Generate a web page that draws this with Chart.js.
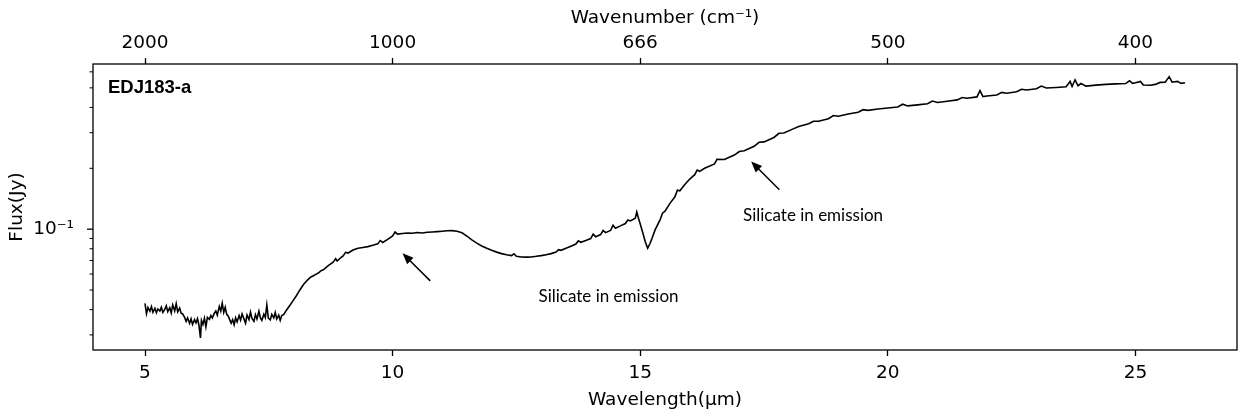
<!DOCTYPE html>
<html>
<head>
<meta charset="utf-8">
<script src="https://cdn.jsdelivr.net/npm/chart.js@4.4.0/dist/chart.umd.min.js"></script>
<style>
  body { margin: 0; background: #fff; }
  canvas { display: block; }
</style>
</head>
<body>
<canvas id="spectrum" width="1239" height="414"></canvas>
<script>
// Spectrum of EDJ183-a: wavelength in micron, flux in Jy
const wavelength = [
  5.00, 5.03, 5.06, 5.10, 5.13, 5.16, 5.20, 5.23, 5.26, 5.30, 5.33, 5.36, 5.40, 5.43, 5.46,
  5.50, 5.53, 5.56, 5.60, 5.63, 5.66, 5.70, 5.73, 5.76, 5.80, 5.83, 5.86, 5.90, 5.93, 5.96,
  6.00, 6.03, 6.06, 6.09, 6.12, 6.14, 6.17, 6.20, 6.23, 6.26, 6.30, 6.33, 6.36, 6.40, 6.43,
  6.46, 6.50, 6.53, 6.56, 6.59, 6.62, 6.65, 6.68, 6.71, 6.74, 6.77, 6.80, 6.83, 6.86, 6.90,
  6.93, 6.96, 7.00, 7.03, 7.06, 7.10, 7.13, 7.16, 7.20, 7.23, 7.26, 7.30, 7.33, 7.36, 7.40,
  7.43, 7.46, 7.49, 7.53, 7.56, 7.60, 7.63, 7.66, 7.70, 7.73, 7.76, 7.80, 7.84, 7.88, 7.92,
  7.96, 8.00, 8.05, 8.10, 8.15, 8.20, 8.25, 8.30, 8.35, 8.40, 8.45, 8.50, 8.55, 8.60, 8.70,
  8.80, 8.85, 8.88, 8.95, 9.00, 9.05, 9.10, 9.20, 9.30, 9.40, 9.50, 9.60, 9.70, 9.75, 9.80,
  9.90, 10.00, 10.05, 10.10, 10.20, 10.30, 10.40, 10.50, 10.60, 10.70, 10.80, 10.90, 11.00, 11.10, 11.20,
  11.30, 11.40, 11.50, 11.60, 11.70, 11.80, 11.90, 12.00, 12.10, 12.20, 12.30, 12.40, 12.45, 12.50, 12.60,
  12.70, 12.80, 12.90, 13.00, 13.10, 13.20, 13.30, 13.35, 13.40, 13.50, 13.60, 13.70, 13.75, 13.80, 13.90,
  14.00, 14.05, 14.10, 14.20, 14.25, 14.30, 14.40, 14.45, 14.50, 14.60, 14.70, 14.75, 14.80, 14.90, 14.93,
  14.96, 15.00, 15.05, 15.10, 15.15, 15.20, 15.25, 15.30, 15.40, 15.45, 15.50, 15.60, 15.70, 15.75, 15.80,
  15.90, 16.00, 16.10, 16.15, 16.20, 16.30, 16.50, 16.55, 16.70, 16.90, 17.00, 17.10, 17.30, 17.40, 17.50,
  17.70, 17.80, 17.90, 18.10, 18.20, 18.40, 18.50, 18.60, 18.80, 18.90, 19.00, 19.20, 19.40, 19.50, 19.60,
  19.80, 20.00, 20.20, 20.30, 20.40, 20.60, 20.80, 20.90, 21.00, 21.20, 21.40, 21.50, 21.60, 21.80, 21.86,
  21.92, 22.00, 22.20, 22.30, 22.40, 22.60, 22.70, 22.80, 23.00, 23.10, 23.20, 23.40, 23.60, 23.68, 23.72,
  23.78, 23.84, 23.90, 24.00, 24.20, 24.40, 24.60, 24.80, 24.88, 24.94, 25.00, 25.10, 25.16, 25.30, 25.40,
  25.50, 25.60, 25.68, 25.74, 25.85, 25.92, 26.00
];

const flux = [
  0.0430, 0.0382, 0.0410, 0.0393, 0.0414, 0.0388, 0.0406, 0.0386, 0.0403, 0.0394, 0.0411, 0.0388, 0.0401, 0.0418, 0.0391,
  0.0409, 0.0385, 0.0422, 0.0394, 0.0428, 0.0390, 0.0407, 0.0384, 0.0381, 0.0366, 0.0350, 0.0364, 0.0342, 0.0360, 0.0338,
  0.0357, 0.0344, 0.0361, 0.0334, 0.0290, 0.0354, 0.0338, 0.0363, 0.0329, 0.0366, 0.0358, 0.0374, 0.0364, 0.0384, 0.0394,
  0.0376, 0.0415, 0.0394, 0.0430, 0.0388, 0.0411, 0.0379, 0.0372, 0.0357, 0.0343, 0.0357, 0.0337, 0.0364, 0.0348, 0.0374,
  0.0355, 0.0381, 0.0359, 0.0343, 0.0376, 0.0357, 0.0389, 0.0362, 0.0350, 0.0378, 0.0360, 0.0393, 0.0364, 0.0354, 0.0380,
  0.0366, 0.0422, 0.0363, 0.0356, 0.0379, 0.0364, 0.0387, 0.0360, 0.0376, 0.0354, 0.0374, 0.0378, 0.0392, 0.0405, 0.0418,
  0.0432, 0.0447, 0.0466, 0.0488, 0.0510, 0.0532, 0.0550, 0.0566, 0.0580, 0.0588, 0.0598, 0.0607, 0.0622, 0.0630, 0.0660,
  0.0686, 0.0715, 0.0696, 0.0722, 0.0738, 0.0768, 0.0762, 0.0788, 0.0805, 0.0812, 0.0820, 0.0832, 0.0846, 0.0878, 0.0860,
  0.0890, 0.0925, 0.0968, 0.0945, 0.0952, 0.0958, 0.0955, 0.0962, 0.0957, 0.0965, 0.0968, 0.0972, 0.0977, 0.0982, 0.0984,
  0.0977, 0.0960, 0.0924, 0.0886, 0.0853, 0.0826, 0.0804, 0.0786, 0.0770, 0.0757, 0.0747, 0.0740, 0.0755, 0.0734, 0.0729,
  0.0727, 0.0729, 0.0734, 0.0740, 0.0748, 0.0757, 0.0771, 0.0792, 0.0786, 0.0805, 0.0824, 0.0844, 0.0875, 0.0861, 0.0879,
  0.0899, 0.0945, 0.0918, 0.0940, 0.0985, 0.0961, 0.0985, 0.1045, 0.1011, 0.1038, 0.1066, 0.1110, 0.1098, 0.1132, 0.1215,
  0.1142, 0.1060, 0.0962, 0.0870, 0.0805, 0.0852, 0.0918, 0.0992, 0.1112, 0.1200, 0.1228, 0.1342, 0.1446, 0.1560, 0.1548,
  0.1662, 0.1770, 0.1860, 0.1960, 0.1932, 0.2000, 0.2103, 0.2215, 0.2211, 0.2325, 0.2420, 0.2445, 0.2571, 0.2690, 0.2703,
  0.2842, 0.2980, 0.2989, 0.3143, 0.3220, 0.3320, 0.3420, 0.3420, 0.3520, 0.3650, 0.3620, 0.3710, 0.3790, 0.3900, 0.3870,
  0.3930, 0.3975, 0.4020, 0.4150, 0.4070, 0.4120, 0.4170, 0.4300, 0.4230, 0.4290, 0.4360, 0.4480, 0.4440, 0.4510, 0.4850,
  0.4530, 0.4560, 0.4610, 0.4750, 0.4700, 0.4780, 0.4920, 0.4880, 0.4950, 0.5100, 0.4990, 0.5020, 0.5060, 0.5380, 0.5080,
  0.5480, 0.5120, 0.5250, 0.5100, 0.5160, 0.5200, 0.5230, 0.5250, 0.5420, 0.5260, 0.5300, 0.5380, 0.5160, 0.5150, 0.5200,
  0.5320, 0.5330, 0.5680, 0.5330, 0.5380, 0.5260, 0.5300
];

// Axis ticks: wavelength below, matching wavenumber labels above
const wavelengthTicks = [5, 10, 15, 20, 25];
const wavenumberLabels = ['2000', '1000', '666', '500', '400'];
const fluxTicks = [0.03, 0.04, 0.05, 0.06, 0.07, 0.08, 0.09, 0.1, 0.2, 0.3, 0.4, 0.5, 0.6];

// Arrow annotations (data coordinates)
const notes = [
  { text: 'Silicate in emission', tipX: 10.20, tipY: 0.0760, tailX: 10.76, tailY: 0.0555, textX: 14.36, textY: 0.0464 },
  { text: 'Silicate in emission', tipX: 17.24, tipY: 0.2162, tailX: 17.81, tailY: 0.1565, textX: 18.49, textY: 0.1164 }
];

const AXIS_FONT = { family: "'DejaVu Sans', sans-serif", size: 18.5 };

const points = wavelength.map((w, i) => ({ x: w, y: flux[i] }));

// Frame, log-axis tick marks, arrows and the object name
const decorPlugin = {
  id: 'decor',
  afterDraw(chart) {
    const { ctx, chartArea: a, scales: { x, y } } = chart;
    ctx.save();
    ctx.strokeStyle = '#000';
    ctx.fillStyle = '#000';

    ctx.lineWidth = 1.3;
    ctx.strokeRect(a.left, a.top, a.right - a.left, a.bottom - a.top);

    fluxTicks.forEach(v => {
      const py = y.getPixelForValue(v);
      const major = v === 0.1;
      ctx.lineWidth = major ? 1.3 : 1;
      ctx.beginPath();
      ctx.moveTo(a.left - (major ? 6 : 3.5), py);
      ctx.lineTo(a.left, py);
      ctx.stroke();
    });

    notes.forEach(n => {
      const x0 = x.getPixelForValue(n.tailX), y0 = y.getPixelForValue(n.tailY);
      const x1 = x.getPixelForValue(n.tipX), y1 = y.getPixelForValue(n.tipY);
      const ang = Math.atan2(y1 - y0, x1 - x0);
      const headLen = 11, headHalf = 4.5;
      ctx.lineWidth = 1.5;
      ctx.beginPath();
      ctx.moveTo(x0, y0);
      ctx.lineTo(x1 - Math.cos(ang) * headLen * 0.8, y1 - Math.sin(ang) * headLen * 0.8);
      ctx.stroke();
      ctx.beginPath();
      ctx.moveTo(x1, y1);
      ctx.lineTo(x1 - Math.cos(ang) * headLen - Math.sin(ang) * headHalf, y1 - Math.sin(ang) * headLen + Math.cos(ang) * headHalf);
      ctx.lineTo(x1 - Math.cos(ang) * headLen + Math.sin(ang) * headHalf, y1 - Math.sin(ang) * headLen - Math.cos(ang) * headHalf);
      ctx.closePath();
      ctx.fill();

      ctx.font = "17px Lato, 'Open Sans', sans-serif";
      ctx.textAlign = 'center';
      ctx.textBaseline = 'middle';
      ctx.fillText(n.text, x.getPixelForValue(n.textX), y.getPixelForValue(n.textY));
    });

    ctx.font = "bold 18.5px 'Liberation Sans', Arial, sans-serif";
    ctx.textAlign = 'left';
    ctx.textBaseline = 'middle';
    ctx.fillText('EDJ183-a', a.left + 15, a.top + 24);
    ctx.restore();
  }
};

new Chart(document.getElementById('spectrum'), {
  type: 'line',
  data: {
    datasets: [{
      data: points,
      borderColor: '#000',
      borderWidth: 1.6,
      pointRadius: 0,
      tension: 0,
      fill: false
    }]
  },
  options: {
    responsive: false,
    animation: false,
    layout: { padding: { left: 0, right: 2, top: 0, bottom: 0 } },
    plugins: { legend: { display: false }, tooltip: { enabled: false } },
    scales: {
      x: {
        type: 'linear',
        position: 'bottom',
        min: 3.95,
        max: 27.05,
        afterBuildTicks: axis => { axis.ticks = wavelengthTicks.map(v => ({ value: v })); },
        afterFit: axis => { axis.height = 64; },
        grid: { drawOnChartArea: false, drawTicks: true, tickLength: 6, tickColor: '#000', tickWidth: 1.3 },
        border: { display: false },
        ticks: { color: '#000', font: AXIS_FONT, padding: 6, maxRotation: 0, autoSkip: false },
        title: { display: true, text: 'Wavelength(μm)', color: '#000', font: AXIS_FONT, padding: { top: 0, bottom: 3 } }
      },
      x2: {
        type: 'linear',
        position: 'top',
        min: 3.95,
        max: 27.05,
        afterBuildTicks: axis => { axis.ticks = wavelengthTicks.map(v => ({ value: v })); },
        afterFit: axis => { axis.height = 64; },
        grid: { drawOnChartArea: false, drawTicks: true, tickLength: 6, tickColor: '#000', tickWidth: 1.3 },
        border: { display: false },
        ticks: {
          color: '#000', font: AXIS_FONT, padding: 4, maxRotation: 0, autoSkip: false,
          callback: (value, index) => wavenumberLabels[index]
        },
        title: { display: true, text: 'Wavenumber (cm⁻¹)', color: '#000', font: AXIS_FONT, padding: { top: 7, bottom: 0 } }
      },
      y: {
        type: 'logarithmic',
        position: 'left',
        min: 0.02526,
        max: 0.656,
        afterBuildTicks: axis => { axis.ticks = fluxTicks.map(v => ({ value: v })); },
        afterFit: axis => { axis.width = 93; },
        grid: { display: false },
        border: { display: false },
        ticks: {
          color: '#000', font: AXIS_FONT, padding: 11, autoSkip: false,
          callback: value => (value === 0.1 ? '10⁻¹' : '')
        },
        title: { display: true, text: 'Flux(Jy)', color: '#000', font: AXIS_FONT, padding: { top: 6, bottom: 0 } }
      }
    }
  },
  plugins: [decorPlugin]
});
</script>
</body>
</html>
